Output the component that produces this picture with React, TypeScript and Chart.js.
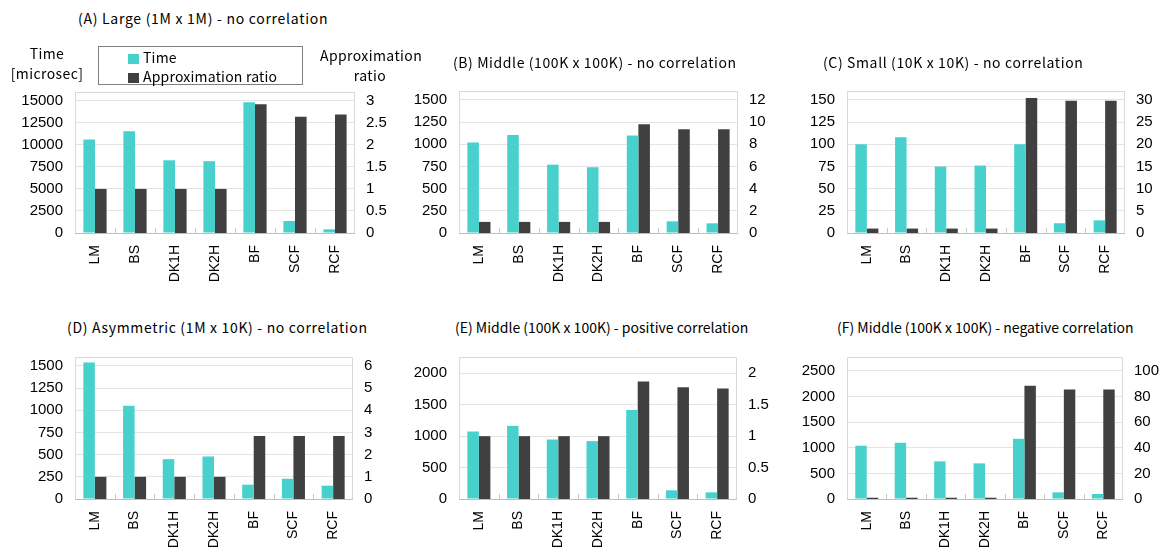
import React, { useEffect, useRef } from "react";
import { Chart, registerables } from "chart.js";

Chart.register(...registerables);

const categories = ["LM", "BS", "DK1H", "DK2H", "BF", "SCF", "RCF"];

const timeA = [10600, 11550, 8250, 8150, 14850, 1360, 420];
const ratioA = [1, 1, 1, 1, 2.92, 2.64, 2.69];
const timeB = [1020, 1105, 770, 742, 1100, 132, 109];
const ratioB = [1, 1, 1, 1, 9.8, 9.35, 9.35];
const timeC = [100, 108, 75, 76, 100, 11, 14.3];
const ratioC = [1, 1, 1, 1, 30.4, 29.8, 29.8];
const timeD = [1537, 1051, 449, 479, 161, 228, 150];
const ratioD = [1, 1, 1, 1, 2.84, 2.84, 2.84];
const timeE = [1074, 1164, 947, 921, 1418, 138, 106];
const ratioE = [1, 1, 1, 1, 1.87, 1.78, 1.76];
const timeF = [1039, 1097, 734, 695, 1175, 130, 97];
const ratioF = [1, 1, 1, 1, 88.3, 85.5, 85.5];

const leftTicksA = [0, 2500, 5000, 7500, 10000, 12500, 15000];
const rightTicksA = [0, 0.5, 1, 1.5, 2, 2.5, 3];
const leftTicksB = [0, 250, 500, 750, 1000, 1250, 1500];
const rightTicksB = [0, 2, 4, 6, 8, 10, 12];
const leftTicksC = [0, 25, 50, 75, 100, 125, 150];
const rightTicksC = [0, 5, 10, 15, 20, 25, 30];
const leftTicksD = [0, 250, 500, 750, 1000, 1250, 1500];
const rightTicksD = [0, 1, 2, 3, 4, 5, 6];
const leftTicksE = [0, 500, 1000, 1500, 2000];
const rightTicksE = [0, 0.5, 1, 1.5, 2];
const leftTicksF = [0, 500, 1000, 1500, 2000, 2500];
const rightTicksF = [0, 20, 40, 60, 80, 100];

const titles = [
  "(A) Large (1M x 1M) - no correlation",
  "(B) Middle (100K x 100K) - no correlation",
  "(C) Small (10K x 10K) - no correlation",
  "(D) Asymmetric (1M x 10K) - no correlation",
  "(E) Middle (100K x 100K) - positive correlation",
  "(F) Middle (100K x 100K) - negative correlation",
];

const seriesNames = ["Time", "Approximation ratio"];

const leftMax = [16000, 1600, 160, 1600, 2260, 2770];
const rightMax = [3.2, 12.8, 32, 6.4, 2.26, 110.8];

const times = [timeA, timeB, timeC, timeD, timeE, timeF];
const ratios = [ratioA, ratioB, ratioC, ratioD, ratioE, ratioF];
const leftTicks = [leftTicksA, leftTicksB, leftTicksC, leftTicksD, leftTicksE, leftTicksF];
const rightTicks = [rightTicksA, rightTicksB, rightTicksC, rightTicksD, rightTicksE, rightTicksF];

// layout (pixels)
const plots = [
  { left: 75, top: 92, right: 355, bottom: 233 },
  { left: 459, top: 91, right: 738, bottom: 233 },
  { left: 847, top: 91, right: 1125, bottom: 233 },
  { left: 75, top: 357, right: 353, bottom: 499 },
  { left: 459, top: 357, right: 737, bottom: 499 },
  { left: 847, top: 357, right: 1123, bottom: 499 },
];
const titlePos = [
  { left: 78, top: 9, spacing: 0.72 },
  { left: 453, top: 53, spacing: 0.59 },
  { left: 823, top: 53, spacing: 0.63 },
  { left: 67, top: 318, spacing: 0.67 },
  { left: 455, top: 318, spacing: 0 },
  { left: 837, top: 318, spacing: 0 },
];

const CYAN = "#48D1CC";
const DARK = "#404040";
const JP = '"Noto Sans CJK JP", "Noto Sans", sans-serif';
const SANS = '"Liberation Sans", Arial, sans-serif';

const decor = {
  id: "decor",
  beforeDatasetsDraw(chart: any) {
    const { ctx, chartArea: a } = chart;
    ctx.save();
    ctx.strokeStyle = "#D9D9D9";
    ctx.lineWidth = 1;
    ctx.strokeRect(
      Math.round(a.left) + 0.5,
      Math.round(a.top) + 0.5,
      Math.round(a.right - a.left) - 1,
      Math.round(a.bottom - a.top)
    );
    ctx.restore();
  },
  afterDatasetsDraw(chart: any) {
    const { ctx, chartArea: a, scales } = chart;
    const x = scales.x;
    const n = chart.data.labels.length;
    const half = (x.getPixelForValue(1) - x.getPixelForValue(0)) / 2;
    ctx.save();
    ctx.strokeStyle = "#C8C8C8";
    ctx.lineWidth = 1;
    ctx.beginPath();
    for (let i = 0; i < n - 1; i++) {
      const px = Math.round(x.getPixelForValue(i) + half) + 0.5;
      ctx.moveTo(px, a.bottom);
      ctx.lineTo(px, a.bottom - 5);
    }
    ctx.stroke();
    ctx.strokeStyle = "#BFBFBF";
    ctx.beginPath();
    ctx.moveTo(a.left, Math.round(a.bottom) + 0.5);
    ctx.lineTo(a.right, Math.round(a.bottom) + 0.5);
    ctx.stroke();
    ctx.restore();
  },
};

function Panel({ idx }: { idx: number }) {
  const ref = useRef<HTMLCanvasElement | null>(null);
  const p = plots[idx];
  const L = 80;
  const R = 60;
  const PT = 12;
  const HX = idx < 3 ? 60 : 550 - p.bottom;
  const cw = L + (p.right - p.left) + R;
  const ch = PT + (p.bottom - p.top) + HX;

  useEffect(() => {
    if (!ref.current) return;
    const tickFont = { family: SANS, size: 15 };
    const chart = new Chart(ref.current, {
      type: "bar",
      data: {
        labels: categories,
        datasets: [
          {
            label: seriesNames[0],
            data: times[idx],
            backgroundColor: CYAN,
            yAxisID: "y",
            categoryPercentage: 0.58,
            barPercentage: 1,
          },
          {
            label: seriesNames[1],
            data: ratios[idx],
            backgroundColor: DARK,
            yAxisID: "y1",
            categoryPercentage: 0.58,
            barPercentage: 1,
          },
        ],
      },
      options: {
        responsive: false,
        animation: false,
        devicePixelRatio: 1,
        layout: { padding: { top: PT, left: 0, right: 0, bottom: 0 } },
        plugins: {
          legend: { display: false },
          tooltip: { enabled: false },
          title: { display: false },
        },
        scales: {
          x: {
            grid: { display: false, drawTicks: false },
            border: { display: false },
            ticks: {
              minRotation: 90,
              maxRotation: 90,
              autoSkip: false,
              padding: 12,
              color: "#000",
              font: { family: SANS, size: 14 },
            },
            afterFit: (s: any) => {
              s.height = HX;
              s.paddingLeft = 0;
              s.paddingRight = 0;
            },
          },
          y: {
            type: "linear",
            position: "left",
            min: 0,
            max: leftMax[idx],
            bounds: "data",
            grid: { color: "#E4E4E4", drawTicks: false },
            border: { display: false },
            ticks: {
              autoSkip: false,
              padding: 12,
              color: "#000",
              font: tickFont,
              callback: (v: any) => String(v),
            },
            afterBuildTicks: (s: any) => {
              s.ticks = leftTicks[idx].map((v) => ({ value: v }));
            },
            afterFit: (s: any) => {
              s.width = L;
              s.paddingTop = 0;
              s.paddingBottom = 0;
            },
          },
          y1: {
            type: "linear",
            position: "right",
            min: 0,
            max: rightMax[idx],
            bounds: "data",
            grid: { display: false, drawTicks: false },
            border: { display: false },
            ticks: {
              autoSkip: false,
              padding: 11,
              color: "#000",
              font: tickFont,
              callback: (v: any) => String(v),
            },
            afterBuildTicks: (s: any) => {
              s.ticks = rightTicks[idx].map((v) => ({ value: v }));
            },
            afterFit: (s: any) => {
              s.width = R;
              s.paddingTop = 0;
              s.paddingBottom = 0;
            },
          },
        },
      } as any,
      plugins: [decor],
    });
    return () => chart.destroy();
  }, []);

  return (
    <canvas
      ref={ref}
      width={cw}
      height={ch}
      style={{ position: "absolute", left: p.left - L, top: p.top - PT, width: cw, height: ch }}
    />
  );
}

export default function App() {
  const textBase: React.CSSProperties = {
    position: "absolute",
    fontFamily: JP,
    fontSize: 14,
    lineHeight: "18px",
    whiteSpace: "nowrap",
    color: "#000",
  };
  return (
    <div
      style={{
        position: "fixed",
        left: 0,
        top: 0,
        width: 1173,
        height: 550,
        overflow: "hidden",
        background: "#fff",
      }}
    >
      {plots.map((_, i) => (
        <Panel key={i} idx={i} />
      ))}
      {titles.map((t, i) => (
        <div
          key={"t" + i}
          style={{
            ...textBase,
            left: titlePos[i].left,
            top: titlePos[i].top,
            letterSpacing: titlePos[i].spacing + "px",
          }}
        >
          {t}
        </div>
      ))}
      <div
        style={{
          ...textBase,
          left: -3,
          top: 43,
          width: 100,
          textAlign: "center",
          lineHeight: "20px",
          letterSpacing: "0.4px",
        }}
      >
        Time
        <br />
        [microsec]
      </div>
      <div
        style={{
          ...textBase,
          left: 320,
          top: 45,
          width: 100,
          textAlign: "center",
          lineHeight: "20px",
          letterSpacing: "0.4px",
        }}
      >
        Approximation
        <br />
        ratio
      </div>
      <div
        style={{
          position: "absolute",
          left: 98,
          top: 46,
          width: 205,
          height: 39,
          boxSizing: "border-box",
          border: "1px solid #808080",
          background: "#fff",
        }}
      >
        <div style={{ position: "absolute", left: 29, top: 7, width: 11, height: 10, background: CYAN }} />
        <div style={{ ...textBase, left: 44, top: 1, letterSpacing: "0.2px" }}>{seriesNames[0]}</div>
        <div style={{ position: "absolute", left: 29, top: 26, width: 11, height: 10, background: DARK }} />
        <div style={{ ...textBase, left: 44, top: 20, letterSpacing: "0.2px" }}>{seriesNames[1]}</div>
      </div>
    </div>
  );
}
